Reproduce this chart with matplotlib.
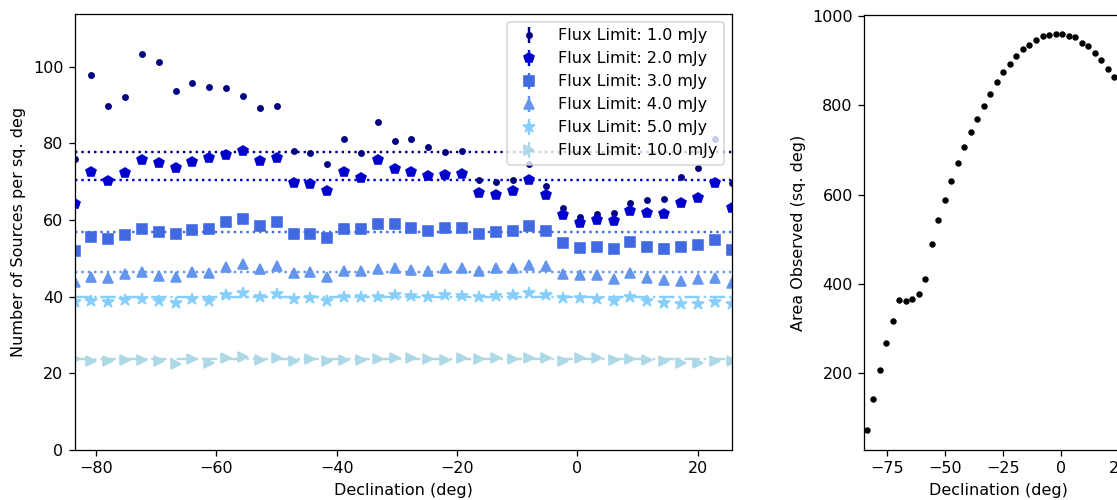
import matplotlib
matplotlib.use("Agg")
import matplotlib.pyplot as plt

# Declination bin centres (deg)
declination = [-83.6, -80.8, -78.0, -75.2, -72.4, -69.6, -66.8, -64.0, -61.2, -58.4,
               -55.6, -52.8, -50.0, -47.2, -44.4, -41.6, -38.8, -36.0, -33.2, -30.4,
               -27.6, -24.8, -22.0, -19.2, -16.4, -13.6, -10.8, -8.0, -5.2, -2.4,
               0.4, 3.2, 6.0, 8.8, 11.6, 14.4, 17.2, 20.0, 22.8, 25.6]

flux_labels = ["Flux Limit: 1.0 mJy", "Flux Limit: 2.0 mJy", "Flux Limit: 3.0 mJy",
               "Flux Limit: 4.0 mJy", "Flux Limit: 5.0 mJy", "Flux Limit: 10.0 mJy"]

density_1mJy = [75.9, 97.8, 89.8, 92.1, 103.4, 101.3, 93.7, 95.8, 94.8, 94.5,
                92.4, 89.2, 89.8, 78.0, 77.4, 74.7, 81.2, 77.4, 85.7, 80.7,
                81.1, 79.0, 77.8, 78.0, 70.5, 69.9, 70.4, 74.6, 69.0, 63.1,
                60.7, 61.5, 61.9, 64.5, 65.2, 65.4, 71.2, 73.6, 81.3, 69.7]
density_2mJy = [64.3, 72.5, 70.1, 72.2, 75.7, 74.8, 73.7, 75.2, 76.1, 76.9,
                78.1, 75.4, 76.3, 69.8, 69.5, 67.7, 72.5, 71.1, 75.7, 73.4,
                72.6, 71.4, 71.8, 72.0, 67.0, 66.6, 67.5, 70.6, 66.5, 61.3,
                59.3, 60.0, 59.9, 62.5, 61.9, 61.5, 64.5, 65.9, 69.6, 63.1]
density_3mJy = [52.0, 55.6, 55.0, 56.1, 57.6, 56.8, 56.5, 57.3, 57.6, 59.4,
                60.3, 58.5, 59.5, 56.5, 56.5, 55.3, 57.6, 57.6, 58.9, 58.9,
                57.9, 57.2, 57.9, 58.0, 56.5, 57.0, 57.2, 58.5, 57.2, 54.1,
                52.7, 53.0, 52.5, 54.3, 52.9, 52.5, 53.0, 53.6, 54.9, 52.1]
density_4mJy = [43.9, 45.2, 44.8, 45.9, 46.4, 45.5, 45.2, 46.4, 46.1, 47.7,
                48.6, 47.2, 47.9, 46.1, 46.4, 45.2, 46.8, 46.8, 47.2, 47.4,
                47.0, 46.8, 47.6, 47.4, 46.8, 47.4, 47.4, 48.3, 47.9, 45.9,
                45.7, 45.7, 44.6, 46.3, 44.8, 44.4, 44.2, 44.6, 45.0, 43.7]
density_5mJy = [38.7, 38.9, 38.6, 39.2, 39.4, 38.9, 38.3, 39.4, 38.9, 40.5,
                40.9, 40.0, 40.7, 39.4, 39.8, 39.0, 40.0, 39.9, 40.0, 40.5,
                40.2, 39.9, 40.5, 40.2, 40.0, 40.2, 40.5, 40.9, 40.5, 39.8,
                39.6, 39.3, 38.9, 39.9, 39.0, 38.3, 38.0, 38.1, 38.7, 38.0]
density_10mJy = [23.7, 23.1, 23.1, 23.5, 23.5, 23.3, 22.5, 23.7, 22.6, 24.0,
                 24.2, 23.5, 24.0, 23.3, 23.7, 23.3, 23.5, 23.5, 23.7, 24.0,
                 24.0, 23.7, 23.5, 24.0, 23.7, 24.0, 23.7, 24.0, 24.0, 23.3,
                 24.0, 24.0, 23.5, 23.7, 23.5, 23.1, 22.6, 22.8, 23.3, 23.1]

mean_density = [77.8, 70.5, 56.9, 46.5, 40.0, 23.7]
density_err = [0.3, 0.3, 0.3, 0.3, 0.3, 0.3]

area_observed = [73, 142, 207, 268, 316, 364, 362, 366, 377, 412,
                 489, 542, 588, 631, 670, 707, 740, 770, 798, 826,
                 852, 875, 892, 910, 925, 935, 946, 954, 958, 960,
                 959, 956, 952, 940, 933, 917, 902, 881, 864, 843]

series = [density_1mJy, density_2mJy, density_3mJy, density_4mJy, density_5mJy, density_10mJy]
colors = ["navy", "mediumblue", "royalblue", "cornflowerblue", "lightskyblue", "lightblue"]
markers = ["o", "p", "s", "^", "*", ">"]
msizes = [3.3, 6.5, 6.2, 6.2, 7.5, 6.2]
lstyles = [":", ":", ":", ":", "-.", "-."]

DPI = 115
W, H = 1117, 500
fig = plt.figure(figsize=(W / DPI, H / DPI), dpi=DPI)
ax1 = fig.add_axes([74.5 / W, 50 / H, 657 / W, 436 / H])

for y, c, m, ms, ls, lab, mu, err in zip(series, colors, markers, msizes, lstyles,
                                          flux_labels, mean_density, density_err):
    ax1.errorbar(declination, y, yerr=err, fmt=m, color=c, ms=ms, label=lab)
    ax1.axhline(mu, color=c, ls=ls, lw=1.5)

ax1.set_xlim(declination[0], declination[-1])
ax1.set_ylim(0, 113.8)
ax1.set_xticks([-80, -60, -40, -20, 0, 20])
ax1.set_yticks([0, 20, 40, 60, 80, 100])
ax1.set_xlabel("Declination (deg)")
ax1.set_ylabel("Number of Sources per sq. deg")
ax1.legend(loc="upper right")

ax2 = fig.add_axes([864 / W, 50 / H, 268 / W, 435 / H])
ax2.plot(declination, area_observed, ".", color="black", ms=6)
ax2.set_xlim(-84.8, 30.5)
ax2.set_ylim(28, 1002)
ax2.set_xticks([-75, -50, -25, 0, 25])
ax2.set_yticks([200, 400, 600, 800, 1000])
ax2.set_xlabel("Declination (deg)")
ax2.set_ylabel("Area Observed (sq. deg)")

fig.savefig("out.png", dpi=DPI)
